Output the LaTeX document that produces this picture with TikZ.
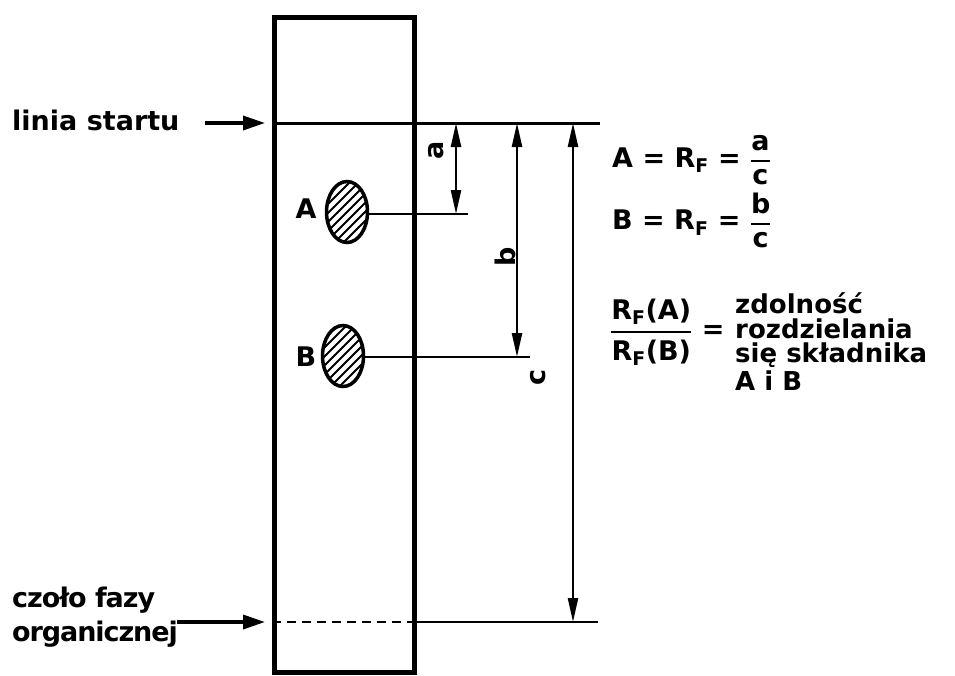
\documentclass[tikz,border=0pt]{standalone}
\usepackage{fontspec}
\setmainfont{DejaVu Sans}[UprightFont=*\space Bold]
\usepackage{amsmath}
\usetikzlibrary{arrows.meta,shapes.geometric}
\newcommand{\thickfrac}[2]{\genfrac{}{}{2.2pt}{0}{#1}{#2}}
\begin{document}
\begin{tikzpicture}[x=1pt,y=-1pt,
  lbl/.style={font=\fontsize{27}{24}\selectfont, inner sep=0pt},
  blocklbl/.style={font=\fontsize{26}{24}\selectfont, inner sep=0pt, anchor=west},
  narrowlbl/.style={font=\fontsize{27}{24}\selectfont\addfontfeatures{LetterSpace=-4}, inner sep=0pt},
  dim/.style={line width=2.4pt, {Triangle[length=24pt,width=10pt]}-{Triangle[length=24pt,width=10pt]}},
  ptr/.style={line width=3.5pt, -{Triangle[length=22pt,width=14pt]}},
  refline/.style={line width=2.4pt},
  spot/.style={ellipse, draw, line width=3.5pt, minimum width=41pt, minimum height=61pt, inner sep=0pt,
    path picture={\foreach \k in {-7,...,7}
      \draw[line width=2pt, shift={(path picture bounding box.center)}] (\k*9pt-40pt,-40pt) -- ++(80pt,80pt);}}]
\useasboundingbox (0,0) rectangle (955,675);
% strip
\node[draw, line width=5pt, minimum width=140pt, minimum height=655pt, inner sep=0pt, anchor=north west] (strip) at (272,15) {};
% start line
\coordinate (s0) at (272,123);
\coordinate (s1) at (600,123);
\draw[line width=3pt] (s0) -- (s1);
% solvent front
\coordinate (f0) at (272,622);
\coordinate (fm) at (412,622);
\coordinate (f1) at (598,622);
\draw[line width=2.5pt, dash pattern=on 9pt off 6pt] (f0) -- (fm);
\draw[line width=2.5pt] (fm) -- (f1);
% spots
\node[spot] (spotA) at (347,212) {};
\node[spot] (spotB) at (343,356) {};
\node[lbl] (lA) at (306,209) {A};
\node[lbl] (lB) at (306,357) {B};
\coordinate (aEnd) at (468,214);
\coordinate (bEnd) at (530,357);
\draw[refline] (spotA.east |- aEnd) -- (aEnd);
\draw[refline] (spotB.east |- bEnd) -- (bEnd);
% dimensions
\coordinate (aTop) at (456,123);
\coordinate (aBot) at (456,214);
\coordinate (bTop) at (517,123);
\coordinate (bBot) at (517,357);
\coordinate (cTop) at (573,123);
\coordinate (cBot) at (573,622);
\draw[dim] (aTop) -- (aBot);
\draw[dim] (bTop) -- (bBot);
\draw[dim] (cTop) -- (cBot);
\node[lbl, rotate=90] (la) at (436,150) {a};
\node[lbl, rotate=90] (lb) at (505,257) {b};
\node[lbl, rotate=90] (lc) at (538,377) {c};
% pointers
\node[lbl, anchor=west] (start) at (12,120) {linia startu};
\coordinate (p0) at (205,123);
\coordinate (p1) at (265,123);
\draw[ptr] (p0) -- (p1);
\node[narrowlbl, anchor=west] (front1) at (12,600) {czoło fazy};
\node[narrowlbl, anchor=west] (front2) at (12,634) {organicznej};
\coordinate (q0) at (177,622);
\coordinate (q1) at (265,622);
\draw[ptr] (q0) -- (q1);
% formulas
\node[lbl, anchor=west] (eqA) at (612,160) {A = R$_\text{F}$ = $\thickfrac{\text{a}}{\text{c}}$};
\node[lbl, anchor=west] (eqB) at (612,220) {B = R$_\text{F}$ = $\thickfrac{\text{b}}{\text{c}}$};
\node[lbl, anchor=west] (eqR) at (610,332) {$\thickfrac{\text{R}_\text{F}\text{(A)}}{\text{R}_\text{F}\text{(B)}}$ =};
\node[blocklbl] (t1) at (735,303) {zdolność};
\node[blocklbl] (t2) at (735,329) {rozdzielania};
\node[blocklbl] (t3) at (735,355) {się składnika};
\node[blocklbl] (t4) at (735,381) {A i B};
\end{tikzpicture}
\end{document}
